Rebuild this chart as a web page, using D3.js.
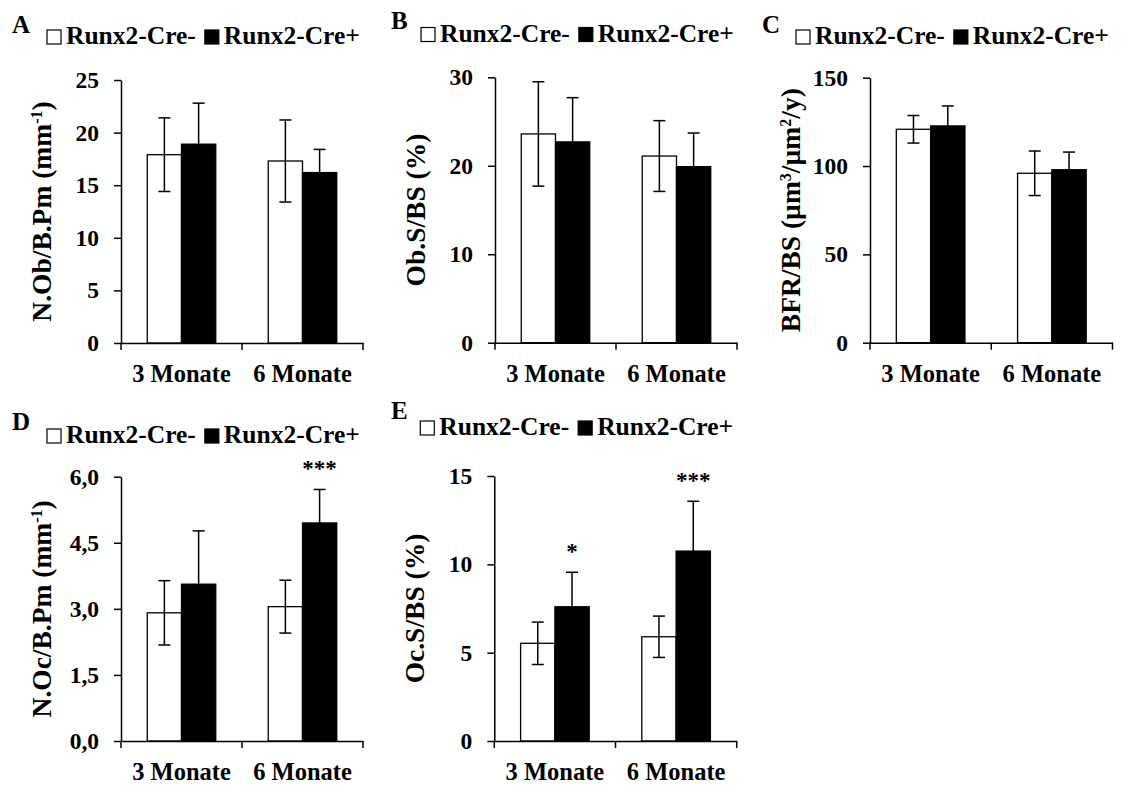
<!DOCTYPE html>
<html>
<head>
<meta charset="utf-8">
<style>
  body { margin: 0; background: #fff; }
  svg { display: block; }
  text { font-family: "Liberation Serif", serif; font-weight: bold; fill: #000; }
</style>
<script src="https://cdnjs.cloudflare.com/ajax/libs/d3/7.8.5/d3.min.js"></script>
</head>
<body>
<script>
// categories and groups
var months = ['3 Monate', '6 Monate'];
var groups = ['Runx2-Cre-', 'Runx2-Cre+'];

// A: N.Ob/B.Pm
var nObNeg = [17.9, 17.3], nObPos = [18.9, 16.2];
var nObNegSd = [3.5, 3.9], nObPosSd = [3.9, 2.2];
var ticksA = [0, 5, 10, 15, 20, 25];

// B: Ob.S/BS
var obSNeg = [23.6, 21.1], obSPos = [22.7, 19.9];
var obSNegSd = [5.9, 4.0], obSPosSd = [5.0, 3.8];
var ticksB = [0, 10, 20, 30];

// C: BFR/BS
var bfrNeg = [120.8, 95.9], bfrPos = [122.7, 97.9];
var bfrNegSd = [7.8, 12.6], bfrPosSd = [11.3, 10.0];
var ticksC = [0, 50, 100, 150];

// D: N.Oc/B.Pm
var nOcNeg = [2.91, 3.05], nOcPos = [3.56, 4.95];
var nOcNegSd = [0.73, 0.60], nOcPosSd = [1.21, 0.76];
var ticksD = [0, 1.5, 3, 4.5, 6];
var tickLabelsD = ['0,0', '1,5', '3,0', '4,5', '6,0'];
var sigD = ['', '***'];

// E: Oc.S/BS
var ocSNeg = [5.53, 5.9], ocSPos = [7.6, 10.75];
var ocSNegSd = [1.2, 1.17], ocSPosSd = [1.95, 2.82];
var ticksE = [0, 5, 10, 15];
var sigE = ['*', '***'];

var svg = d3.select('body').append('svg')
  .attr('width', 1121).attr('height', 785);

var panels = [
  { letter: 'A', left: 121, right: 363, top: 80, bottom: 343, letterX: 12, letterY: 33, legendY: 44,
    ticks: ticksA, means: [nObNeg, nObPos], sds: [nObNegSd, nObPosSd],
    label: [['N.Ob/B.Pm (mm'], ['-1', true], [')']] },
  { letter: 'B', left: 495, right: 737, top: 77.3, bottom: 342.7, letterX: 391, letterY: 28.5, legendY: 41.5,
    ticks: ticksB, means: [obSNeg, obSPos], sds: [obSNegSd, obSPosSd],
    label: [['Ob.S/BS (%)']] },
  { letter: 'C', left: 870, right: 1112.5, top: 77.7, bottom: 342.7, letterX: 762, letterY: 32.5, legendY: 44,
    ticks: ticksC, means: [bfrNeg, bfrPos], sds: [bfrNegSd, bfrPosSd],
    label: [['BFR/BS (\u00b5m'], ['3', true], ['/\u00b5m'], ['2', true], ['/y)']] },
  { letter: 'D', left: 121, right: 363, top: 476.7, bottom: 741, letterX: 12, letterY: 430, legendY: 443,
    ticks: ticksD, tickLabels: tickLabelsD, means: [nOcNeg, nOcPos], sds: [nOcNegSd, nOcPosSd], sig: sigD,
    label: [['N.Oc/B.Pm (mm'], ['-1', true], [')']] },
  { letter: 'E', left: 494.3, right: 736.7, top: 476, bottom: 741, letterX: 391, letterY: 418.5, legendY: 435,
    ticks: ticksE, means: [ocSNeg, ocSPos], sds: [ocSNegSd, ocSPosSd], sig: sigE,
    label: [['Oc.S/BS (%)']] }
];

panels.forEach(drawPanel);

function drawPanel(p) {
  var g = svg.append('g');
  var max = d3.max(p.ticks);
  var y = d3.scaleLinear().domain([0, max]).range([p.bottom, p.top]);
  var x = d3.scaleBand().domain(months).range([p.left, p.right]);
  var bw = x.bandwidth();
  var xs = d3.scaleBand().domain(groups).range([bw * 0.217, bw * 0.783]);

  // bars
  months.forEach(function(m, i) {
    groups.forEach(function(grp, j) {
      g.append('rect')
        .attr('x', x(m) + xs(grp))
        .attr('y', y(p.means[j][i]))
        .attr('width', xs.bandwidth())
        .attr('height', y(0) - y(p.means[j][i]))
        .attr('fill', j === 0 ? '#fff' : '#000')
        .attr('stroke', '#000')
        .attr('stroke-width', 1.3);
    });
  });

  // error bars
  months.forEach(function(m, i) {
    groups.forEach(function(grp, j) {
      var cx = x(m) + xs(grp) + xs.bandwidth() / 2;
      var hi = y(p.means[j][i] + p.sds[j][i]);
      var lo = y(p.means[j][i] - p.sds[j][i]);
      var eg = g.append('g').attr('stroke', '#000').attr('stroke-width', 1.5);
      eg.append('line').attr('x1', cx).attr('x2', cx).attr('y1', hi).attr('y2', lo);
      eg.append('line').attr('x1', cx - 6).attr('x2', cx + 6).attr('y1', hi).attr('y2', hi);
      eg.append('line').attr('x1', cx - 6).attr('x2', cx + 6).attr('y1', lo).attr('y2', lo);
      if (p.sig && j === 1 && p.sig[i]) {
        g.append('text')
          .attr('x', cx).attr('y', hi - 13)
          .attr('text-anchor', 'middle')
          .attr('font-size', 23)
          .text(p.sig[i]);
      }
    });
  });

  // y axis
  var yAxis = d3.axisLeft(y)
    .tickValues(p.ticks)
    .tickFormat(function(d, i) { return p.tickLabels ? p.tickLabels[i] : d; })
    .tickSize(7).tickSizeOuter(0).tickPadding(15);
  var ya = g.append('g').attr('transform', 'translate(' + p.left + ',0)').call(yAxis);
  ya.selectAll('path, line').attr('stroke-width', 1.5);
  ya.selectAll('text')
    .attr('font-family', 'Liberation Serif').attr('font-weight', 'bold').attr('font-size', 23.5);

  // x axis
  var xAxis = d3.axisBottom(x).tickSize(0).tickSizeOuter(0).tickPadding(22);
  var xa = g.append('g').attr('transform', 'translate(0,' + p.bottom + ')').call(xAxis);
  xa.select('path').attr('stroke-width', 1.5);
  xa.selectAll('text')
    .attr('font-family', 'Liberation Serif').attr('font-weight', 'bold').attr('font-size', 24.5);
  var bounds = months.map(function(m) { return x(m); }).concat([x.range()[1]]);
  xa.selectAll('.bound').data(bounds).enter().append('line')
    .attr('class', 'bound')
    .attr('x1', function(d) { return d; }).attr('x2', function(d) { return d; })
    .attr('y1', 0).attr('y2', 7)
    .attr('stroke', '#000').attr('stroke-width', 1.5);

  // y label
  var cy = (p.top + p.bottom) / 2;
  var lab = g.append('text')
    .attr('transform', 'translate(' + (p.left - 80) + ',' + cy + ') rotate(-90)')
    .attr('text-anchor', 'middle')
    .attr('dy', '0.35em')
    .attr('font-size', 27.5);
  p.label.forEach(function(part) {
    var t = lab.append('tspan').text(part[0]);
    if (part[1]) t.attr('font-size', 16).attr('baseline-shift', '55%');
  });

  // panel letter
  g.append('text').attr('x', p.letterX).attr('y', p.letterY)
    .attr('font-size', 25).text(p.letter);

  // legend
  var lx = p.left - 74;
  var sq = 14;
  g.append('rect').attr('x', lx).attr('y', p.legendY - sq).attr('width', sq).attr('height', sq)
    .attr('fill', '#fff').attr('stroke', '#000').attr('stroke-width', 1.2);
  var t1 = g.append('text').attr('x', lx + 19).attr('y', p.legendY).attr('font-size', 25.5).text(groups[0]);
  var x2 = lx + 19 + t1.node().getComputedTextLength() + 9;
  g.append('rect').attr('x', x2).attr('y', p.legendY - sq).attr('width', sq).attr('height', sq)
    .attr('fill', '#000').attr('stroke', '#000').attr('stroke-width', 1.2);
  g.append('text').attr('x', x2 + 19).attr('y', p.legendY).attr('font-size', 25.5).text(groups[1]);
}
</script>
</body>
</html>
